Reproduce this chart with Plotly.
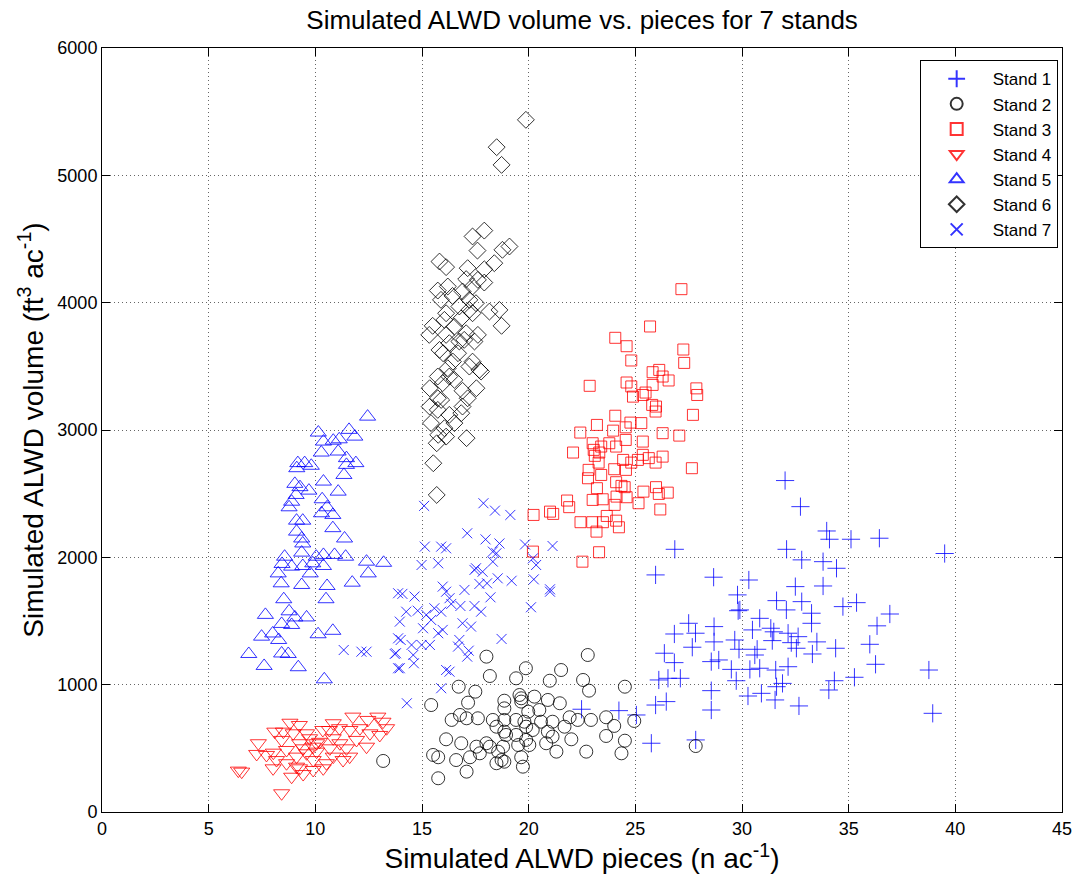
import plotly.graph_objects as go

# ---------------- data ----------------
s1_x = [32.02, 32.74, 33.97, 34.10, 35.11, 36.44, 26.85, 32.09, 32.80, 33.80, 34.43, 25.95, 28.67, 30.32,
        32.50, 33.80, 29.79, 31.62, 32.80, 35.37, 29.82, 29.90, 32.08, 34.73, 33.26, 36.93, 30.83, 33.26,
        27.50, 28.69, 31.35, 36.33, 30.49, 31.49, 26.83, 27.82, 32.16, 32.63, 28.69, 29.66, 31.42, 32.31,
        33.51, 35.99, 27.67, 29.86, 32.55, 34.39, 30.71, 26.36, 30.60, 33.30, 26.83, 28.56, 28.91, 36.26,
        38.76, 29.50, 30.37, 30.83, 31.58, 32.16, 26.53, 27.11, 26.10, 29.73, 35.27, 34.33, 31.62, 31.90,
        28.56, 34.07, 30.91, 30.28, 25.95, 26.45, 31.55, 32.67, 28.56, 38.94, 25.75, 27.83, 25.05, 22.48,
        24.23, 39.50]
s1_y = [2603, 2398, 2207, 2142, 2142, 2150, 2063, 2063, 1980, 1966, 1914, 1862, 1844, 1822,
        1770, 1775, 1705, 1660, 1652, 1644, 1581, 1587, 1587, 1613, 1561, 1555, 1521, 1482,
        1482, 1456, 1443, 1462, 1430, 1415, 1398, 1404, 1404, 1377, 1336, 1351, 1346, 1330,
        1336, 1317, 1294, 1278, 1286, 1286, 1278, 1247, 1233, 1241, 1173, 1181, 1194, 1160,
        1115, 1120, 1120, 1129, 1115, 1141, 1050, 1050, 1037, 1031, 1058, 1031, 984, 1010,
        953, 958, 932, 911, 840, 867, 880, 833, 801, 775, 540, 566, 762, 807,
        796, 2030]

s2_x = [22.77, 18.02, 19.87, 21.52, 19.41, 18.18, 20.99, 22.55, 22.83, 24.51, 16.72, 17.50, 15.43, 17.16,
        18.86, 19.57, 19.65, 19.65, 20.27, 20.90, 21.46, 19.98, 20.50, 18.86, 16.78, 16.39, 17.09, 17.62,
        18.32, 18.86, 19.41, 19.80, 20.58, 21.12, 21.92, 22.30, 22.92, 23.63, 24.01, 24.95, 18.49, 18.86,
        18.94, 19.88, 20.19, 20.90, 21.68, 19.41, 21.12, 19.88, 20.03, 22.00, 23.63, 24.51, 16.13, 16.84,
        17.55, 18.02, 18.18, 18.80, 19.51, 20.82, 21.30, 17.71, 17.25, 18.57, 15.52, 15.76, 22.70, 24.35,
        16.60, 18.73, 19.65, 18.49, 18.86, 17.09, 19.73, 15.76, 13.18, 27.83]
s2_y = [1233, 1220, 1129, 1115, 1050, 1068, 1031, 1037, 953, 984, 984, 945, 840, 859,
        874, 919, 893, 867, 906, 880, 854, 788, 801, 814, 762, 723, 736, 736,
        723, 723, 723, 709, 709, 709, 744, 723, 723, 744, 676, 715, 670, 631,
        605, 670, 644, 631, 670, 605, 592, 566, 526, 571, 597, 560, 571, 540,
        513, 540, 513, 513, 526, 540, 474, 461, 430, 474, 448, 430, 474, 461,
        408, 408, 430, 383, 395, 317, 356, 265, 401, 518]

s3_x = [27.16, 25.69, 24.06, 24.59, 27.25, 24.81, 27.29, 25.81, 26.12, 26.28, 26.56, 22.86, 24.59, 24.81,
        25.81, 25.48, 27.86, 27.90, 25.35, 24.89, 25.79, 25.95, 25.97, 27.70, 24.06, 23.20, 24.77, 25.28,
        24.55, 22.42, 23.96, 26.28, 27.06, 24.55, 25.35, 23.00, 23.78, 24.10, 23.40, 23.05, 22.08, 23.31,
        23.10, 25.35, 25.63, 26.28, 25.95, 24.43, 24.81, 25.12, 23.28, 24.01, 24.56, 27.65, 22.81, 22.78,
        23.40, 24.10, 24.35, 24.50, 23.20, 25.97, 25.38, 26.52, 26.10, 21.80, 23.00, 23.47, 24.12, 24.59,
        21.90, 24.03, 25.15, 21.00, 21.15, 20.23, 26.17, 23.66, 22.43, 22.98, 23.48, 24.10, 24.23, 23.18,
        23.30, 22.52, 20.20]
s3_y = [4106, 3813, 3724, 3658, 3632, 3546, 3527, 3454, 3472, 3420, 3389, 3347, 3373, 3342,
        3354, 3294, 3327, 3275, 3275, 3262, 3197, 3145, 3184, 3119, 3112, 3040, 3058, 3054,
        3021, 2980, 2995, 2975, 2956, 2922, 2909, 2896, 2896, 2870, 2870, 2844, 2823, 2823,
        2797, 2805, 2779, 2791, 2744, 2765, 2744, 2765, 2744, 2692, 2687, 2700, 2687, 2621,
        2647, 2590, 2561, 2551, 2543, 2551, 2516, 2508, 2498, 2446, 2451, 2456, 2477, 2472,
        2394, 2412, 2425, 2359, 2341, 2333, 2376, 2325, 2276, 2276, 2276, 2288, 2236, 2202,
        2040, 1966, 2045]

s4_x = [6.55, 6.39, 8.42, 7.33, 7.25, 8.03, 8.10, 8.65, 8.89, 9.43, 8.81, 9.25, 8.50, 8.96,
        9.59, 8.42, 9.26, 9.90, 10.35, 10.66, 11.13, 11.76, 12.46, 12.93, 13.17, 11.62, 12.09, 12.56,
        13.02, 11.93, 11.15, 12.40, 10.68, 10.06, 9.59, 9.12, 8.18, 9.90, 10.52, 11.30, 11.61, 8.02,
        9.26, 10.37, 10.20, 9.73, 10.06, 10.84, 9.43, 8.65, 7.71, 9.12, 9.90, 10.84, 11.46, 10.84,
        13.34]
s4_y = [317, 325, 147, 540, 456, 466, 631, 383, 277, 298, 701, 683, 631, 618,
        618, 566, 540, 513, 644, 644, 658, 749, 723, 749, 709, 644, 658, 618,
        605, 566, 540, 513, 500, 474, 461, 435, 408, 408, 383, 408, 435, 343,
        343, 343, 551, 579, 540, 579, 500, 487, 448, 356, 330, 435, 500, 697,
        658]

s5_x = [12.45, 10.14, 11.58, 11.85, 10.38, 10.84, 11.12, 10.28, 11.07, 11.46, 11.90, 11.46, 9.18, 9.50,
        9.81, 9.13, 11.34, 10.38, 9.04, 9.28, 11.07, 9.70, 9.10, 10.32, 8.89, 10.55, 8.77, 10.29,
        10.82, 9.12, 9.41, 10.82, 11.37, 9.12, 9.36, 9.41, 8.56, 9.36, 10.04, 10.38, 10.90, 11.42,
        12.40, 13.20, 8.44, 8.89, 9.41, 9.88, 10.38, 8.26, 9.76, 12.48, 8.40, 9.36, 10.55, 11.73,
        8.52, 10.50, 7.66, 8.77, 9.04, 9.59, 8.42, 8.89, 10.82, 10.13, 7.48, 8.00, 8.28, 6.88,
        8.42, 8.73, 7.60, 9.20, 10.42]
s5_y = [3105, 2980, 3001, 2948, 2909, 2916, 2927, 2823, 2831, 2779, 2740, 2726, 2740, 2740,
        2719, 2700, 2647, 2595, 2577, 2551, 2516, 2524, 2490, 2456, 2437, 2393, 2393, 2346,
        2333, 2288, 2288, 2229, 2148, 2202, 2148, 2109, 2005, 2037, 2005, 2019, 2019, 2005,
        1966, 1957, 1948, 1927, 1932, 1953, 1932, 1874, 1874, 1874, 1796, 1783, 1775, 1801,
        1671, 1671, 1548, 1576, 1528, 1528, 1477, 1469, 1423, 1396, 1377, 1402, 1351, 1241,
        1245, 1241, 1147, 1137, 1042]

s6_x = [19.87, 18.50, 18.73, 17.92, 17.37, 17.60, 19.10, 18.77, 15.82, 16.13, 18.39, 17.92, 17.14, 17.07,
        17.62, 17.92, 16.21, 15.74, 17.37, 16.90, 16.43, 15.89, 17.22, 17.53, 16.75, 18.16, 18.63, 18.73,
        17.22, 17.37, 16.13, 16.05, 16.84, 16.52, 15.50, 15.34, 16.13, 17.07, 17.62, 17.46, 16.75, 16.98,
        16.28, 15.82, 15.99, 16.69, 16.45, 16.21, 17.37, 17.69, 17.77, 17.22, 16.28, 16.52, 15.74, 15.97,
        15.36, 17.55, 16.90, 15.74, 15.90, 17.14, 15.36, 16.90, 15.74, 16.28, 16.84, 15.42, 16.52, 16.05,
        15.76, 16.13, 17.09, 15.69, 15.53, 15.69]
s6_y = [5436, 5221, 5082, 4566, 4520, 4409, 4441, 4415, 4323, 4279, 4310, 4262, 4271, 4185,
        4179, 4158, 4127, 4095, 4127, 4088, 4053, 4022, 4022, 3996, 3970, 3930, 3943, 3818,
        3943, 3917, 3917, 3865, 3877, 3812, 3818, 3747, 3747, 3760, 3747, 3695, 3695, 3708,
        3682, 3629, 3603, 3603, 3537, 3485, 3537, 3472, 3459, 3498, 3420, 3394, 3420, 3368,
        3328, 3328, 3308, 3249, 3236, 3249, 3184, 3184, 3158, 3119, 3132, 3054, 3054, 3014,
        2962, 2948, 2936, 2896, 2739, 2490]

s7_x = [15.10, 17.88, 18.42, 19.14, 17.12, 17.98, 18.63, 19.83, 21.12, 15.13, 15.90, 16.13, 18.32, 18.49,
        20.20, 20.35, 14.98, 15.76, 17.53, 17.46, 17.84, 18.32, 18.55, 19.20, 20.24, 17.69, 18.05, 21.00,
        15.97, 16.13, 16.99, 18.21, 14.08, 14.65, 16.29, 16.37, 16.80, 20.11, 17.46, 14.26, 14.80, 15.58,
        15.90, 17.77, 13.96, 15.20, 15.43, 16.90, 17.30, 15.05, 15.76, 15.97, 16.75, 18.73, 14.00, 14.51,
        14.98, 15.37, 16.69, 17.19, 13.78, 14.59, 17.12, 13.96, 14.62, 16.13, 16.29, 15.90, 14.29, 11.33,
        12.16, 12.40, 13.72, 13.88, 13.88, 13.88, 21.00]
s7_y = [2404, 2425, 2367, 2333, 2189, 2141, 2109, 2101, 2089, 2084, 2084, 2071, 2045, 2032,
        1992, 1940, 1940, 1953, 1914, 1901, 1887, 1966, 1835, 1816, 1827, 1791, 1796, 1730,
        1770, 1730, 1744, 1686, 1713, 1692, 1679, 1634, 1618, 1608, 1618, 1573, 1581, 1600,
        1573, 1573, 1495, 1548, 1508, 1482, 1456, 1443, 1404, 1430, 1351, 1359, 1351, 1312,
        1312, 1312, 1299, 1267, 1247, 1233, 1220, 1129, 1168, 1115, 1102, 972, 854, 1272,
        1259, 1259, 1241, 1718, 1364, 1129, 1749]

stand_names = ["Stand 1", "Stand 2", "Stand 3", "Stand 4", "Stand 5", "Stand 6", "Stand 7"]
x_ticks = [0, 5, 10, 15, 20, 25, 30, 35, 40, 45]
y_ticks = [0, 1000, 2000, 3000, 4000, 5000, 6000]

# ---------------- styles ----------------
styles = [
    ("cross-thin-open", "#0000FF", 13),
    ("circle-open", "#000000", 13),
    ("square-open", "#FF0000", 11),
    ("triangle-down-open", "#FF0000", 14),
    ("triangle-up-open", "#0000FF", 14),
    ("diamond-open", "#000000", 13),
    ("x-thin-open", "#0000FF", 10),
]
series = [(s1_x, s1_y), (s2_x, s2_y), (s3_x, s3_y), (s4_x, s4_y),
          (s5_x, s5_y), (s6_x, s6_y), (s7_x, s7_y)]

FONT = "Liberation Sans, Arial, Helvetica, sans-serif"

fig = go.Figure()
for name, (xs, ys), (sym, col, sz) in zip(stand_names, series, styles):
    fig.add_trace(go.Scatter(
        x=xs, y=ys, mode="markers", name=name,
        marker=dict(symbol=sym, size=sz, color=col, opacity=0.8,
                    line=dict(color=col, width=1)),
    ))

axis_common = dict(
    showline=True, linecolor="black", linewidth=1, mirror="ticks",
    ticks="inside", ticklen=8, tickcolor="black",
    showgrid=True, gridcolor="#666666", gridwidth=1, griddash="1px,3px",
    zeroline=False, tickfont=dict(size=18, color="black", family=FONT),
    automargin=False,
)

fig.update_layout(
    width=1085, height=884,
    paper_bgcolor="white", plot_bgcolor="white",
    margin=dict(l=102, r=23, t=48, b=72),
    font=dict(family=FONT, color="black"),
    title=dict(text="Simulated ALWD volume vs. pieces for 7 stands",
               x=0.5365, xanchor="center", y=0.977, yanchor="middle",
               font=dict(size=26, family=FONT, color="black")),
    xaxis=dict(range=[0, 45], tickvals=x_ticks, ticktext=[str(v) for v in x_ticks],
               title=dict(text="Simulated ALWD pieces (n ac<sup>-1</sup>)",
                          font=dict(size=28, family=FONT), standoff=6),
               **axis_common),
    yaxis=dict(range=[0, 6000], tickvals=y_ticks, ticktext=[str(v) for v in y_ticks],
               title=dict(text="Simulated ALWD volume (ft<sup>3</sup> ac<sup>-1</sup>)",
                          font=dict(size=28, family=FONT), standoff=5),
               **axis_common),
    legend=dict(x=0.9955, y=0.984, xanchor="right", yanchor="top",
                bgcolor="white", bordercolor="black", borderwidth=1,
                font=dict(size=17, family=FONT, color="black"),
                itemsizing="constant", itemwidth=62),
    showlegend=True,
)

fig.write_html("out.html")
